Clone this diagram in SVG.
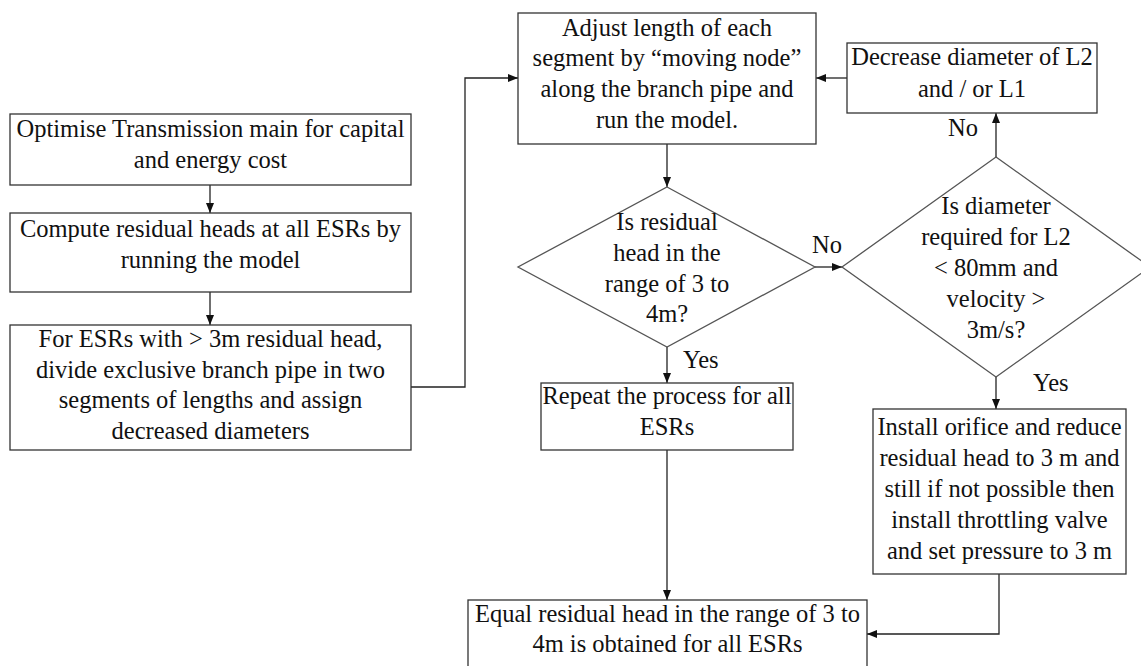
<svg xmlns="http://www.w3.org/2000/svg" width="1141" height="666" viewBox="0 0 1141 666">
<style>
.box{fill:#fff;stroke:#333;stroke-width:1.3}
.dia{fill:#fff;stroke:#555;stroke-width:1.3}
.t{font-family:"Liberation Serif","Times New Roman",serif;font-size:24.5px;fill:#111;text-anchor:middle}
.l{font-family:"Liberation Serif","Times New Roman",serif;font-size:24.5px;fill:#111}
.c{fill:none;stroke:#222;stroke-width:1.3}
</style>
<defs>
<marker id="ah" viewBox="0 0 10 10" refX="10" refY="5" markerWidth="10" markerHeight="10" markerUnits="userSpaceOnUse" orient="auto">
<path d="M0,1 L10,5 L0,9 Z" fill="#111"/>
</marker>
</defs>
<rect width="1141" height="666" fill="#fff"/>
<g id="connectors">
<path class="c" d="M210,185 V213" marker-end="url(#ah)"/>
<path class="c" d="M210,292 V325" marker-end="url(#ah)"/>
<path class="c" d="M411,387 H465 V78 H518" marker-end="url(#ah)"/>
<path class="c" d="M667,144 V187" marker-end="url(#ah)"/>
<path class="c" d="M815,267 H842" marker-end="url(#ah)"/>
<path class="c" d="M996,157 V113" marker-end="url(#ah)"/>
<path class="c" d="M847,78 H816" marker-end="url(#ah)"/>
<path class="c" d="M667,347 V383" marker-end="url(#ah)"/>
<path class="c" d="M996,377 V409" marker-end="url(#ah)"/>
<path class="c" d="M667,450 V600" marker-end="url(#ah)"/>
<path class="c" d="M999,574 V634 H867" marker-end="url(#ah)"/>
<text class="l" x="683" y="368">Yes</text>
<text class="l" x="812" y="253">No</text>
<text class="l" x="948" y="136">No</text>
<text class="l" x="1033" y="391">Yes</text>
</g>
<g id="n1">
<rect class="box" x="10" y="114" width="401" height="71"/>
<text class="t" x="210.5" y="137">Optimise Transmission main for capital</text>
<text class="t" x="210.5" y="168">and energy cost</text>
</g>
<g id="n2">
<rect class="box" x="10" y="213" width="401" height="79"/>
<text class="t" x="210.5" y="237">Compute residual heads at all ESRs by</text>
<text class="t" x="210.5" y="268">running the model</text>
</g>
<g id="n3">
<rect class="box" x="10" y="325" width="401" height="125"/>
<text class="t" x="210.5" y="347">For ESRs with &gt; 3m residual head,</text>
<text class="t" x="210.5" y="378">divide exclusive branch pipe in two</text>
<text class="t" x="210.5" y="408">segments of lengths and assign</text>
<text class="t" x="210.5" y="439">decreased diameters</text>
</g>
<g id="n4">
<rect class="box" x="518" y="13" width="298" height="131"/>
<text class="t" x="667" y="36">Adjust length of each</text>
<text class="t" x="667" y="66">segment by “moving node”</text>
<text class="t" x="667" y="97">along the branch pipe and</text>
<text class="t" x="667" y="128">run the model.</text>
</g>
<g id="n5">
<rect class="box" x="847" y="43" width="250" height="70"/>
<text class="t" x="972" y="65">Decrease diameter of L2</text>
<text class="t" x="972" y="97">and / or L1</text>
</g>
<g id="d1">
<polygon class="dia" points="667,187 815,267 667,347 518,267"/>
<text class="t" x="667" y="230">Is residual</text>
<text class="t" x="667" y="261">head in the</text>
<text class="t" x="667" y="292">range of 3 to</text>
<text class="t" x="667" y="322">4m?</text>
</g>
<g id="d2">
<polygon class="dia" points="996,157 1150,267 996,377 842,267"/>
<text class="t" x="996" y="214">Is diameter</text>
<text class="t" x="996" y="245">required for L2</text>
<text class="t" x="996" y="276">&lt; 80mm and</text>
<text class="t" x="996" y="307">velocity &gt;</text>
<text class="t" x="996" y="338">3m/s?</text>
</g>
<g id="n6">
<rect class="box" x="541" y="383" width="252" height="67"/>
<text class="t" x="667" y="404">Repeat the process for all</text>
<text class="t" x="667" y="435">ESRs</text>
</g>
<g id="n7">
<rect class="box" x="873" y="409" width="253" height="165"/>
<text class="t" x="999.5" y="435">Install orifice and reduce</text>
<text class="t" x="999.5" y="466">residual head to 3 m and</text>
<text class="t" x="999.5" y="497">still if not possible then</text>
<text class="t" x="999.5" y="528">install throttling valve</text>
<text class="t" x="999.5" y="559">and set pressure to 3 m</text>
</g>
<g id="n8">
<rect class="box" x="468" y="600" width="399" height="80"/>
<text class="t" x="667.5" y="622">Equal residual head in the range of 3 to</text>
<text class="t" x="667.5" y="652">4m is obtained for all ESRs</text>
</g>
</svg>
